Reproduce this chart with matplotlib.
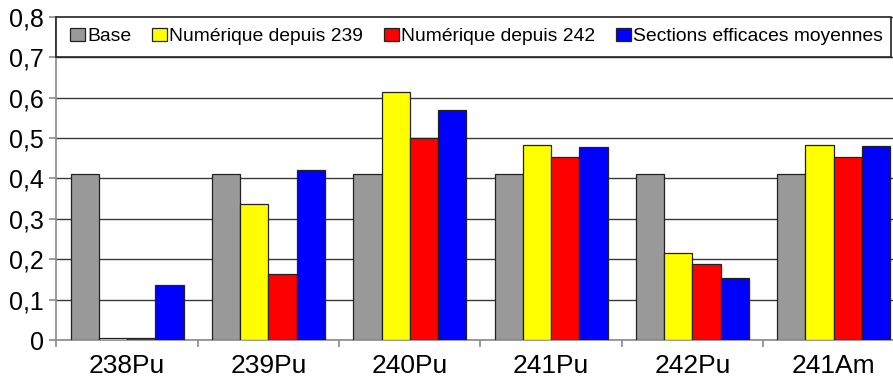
import matplotlib
matplotlib.use("Agg")
import matplotlib.pyplot as plt
from matplotlib.patches import Rectangle
import numpy as np

plt.rcParams["font.family"] = ["Liberation Sans", "DejaVu Sans"]

CATEGORIES = ["238Pu", "239Pu", "240Pu", "241Pu", "242Pu", "241Am"]
SERIES = ["Base", "Numérique depuis 239", "Numérique depuis 242",
          "Sections efficaces moyennes"]
BASE = [0.41, 0.41, 0.41, 0.41, 0.41, 0.41]
NUM_239 = [0.006, 0.338, 0.614, 0.484, 0.217, 0.484]
NUM_242 = [0.006, 0.164, 0.50, 0.452, 0.189, 0.452]
SECTIONS = [0.136, 0.422, 0.570, 0.479, 0.155, 0.481]
YTICKS = [0, 0.1, 0.2, 0.3, 0.4, 0.5, 0.6, 0.7, 0.8]
YTICK_LABELS = ["0", "0,1", "0,2", "0,3", "0,4", "0,5", "0,6", "0,7", "0,8"]

COLORS = ["#999999", "#ffff00", "#ff0000", "#0000ff"]
GRID = "#3a3a3a"
SPINE = "#8a8a8a"

fig = plt.figure(figsize=(8.93, 3.8), dpi=100)
ax = fig.add_axes([0.0632, 0.1045, 0.9496, 0.8516])

x = np.arange(len(CATEGORIES))
width = 0.2
for i, (vals, color, name) in enumerate(zip([BASE, NUM_239, NUM_242, SECTIONS],
                                            COLORS, SERIES)):
    ax.bar(x - 0.3 + i * width, vals, width, color=color, edgecolor="#222222",
           linewidth=0.9, label=name, zorder=3)

ax.set_xlim(-0.5, len(CATEGORIES) - 0.5)
ax.set_ylim(0, 0.8)
ax.set_yticks(YTICKS)
ax.set_yticklabels(YTICK_LABELS, fontsize=18)
ax.set_xticks(x)
ax.set_xticklabels(CATEGORIES, fontsize=19)
ax.set_xticks(np.arange(len(CATEGORIES) + 1) - 0.5, minor=True)
ax.tick_params(axis="x", which="major", length=0, pad=10)
ax.tick_params(axis="x", which="minor", length=5, width=1.2, color=SPINE)
ax.tick_params(axis="y", length=5, width=1.2, color=SPINE, pad=4)

ax.yaxis.grid(True, color=GRID, lw=1.0, zorder=0)
ax.set_axisbelow(True)
for side in ("top", "right"):
    ax.spines[side].set_visible(False)
for side in ("left", "bottom"):
    ax.spines[side].set_color(SPINE)
    ax.spines[side].set_linewidth(1.2)

# legend box fills the band between the 0,7 and 0,8 gridlines
ax.add_patch(Rectangle((0, 0.875), 0.984, 0.125, transform=ax.transAxes,
                       facecolor="white", edgecolor="#222222", lw=1.2,
                       zorder=4, clip_on=False))
leg = ax.legend(loc="center left", bbox_to_anchor=(0, 0.9375),
                ncol=4, fontsize=13.85, frameon=False,
                borderaxespad=0, handlelength=0.75, handleheight=0.65,
                handletextpad=0.12, columnspacing=1.1, borderpad=0.72)
leg.set_zorder(5)

fig.savefig("out.png", dpi=100)
